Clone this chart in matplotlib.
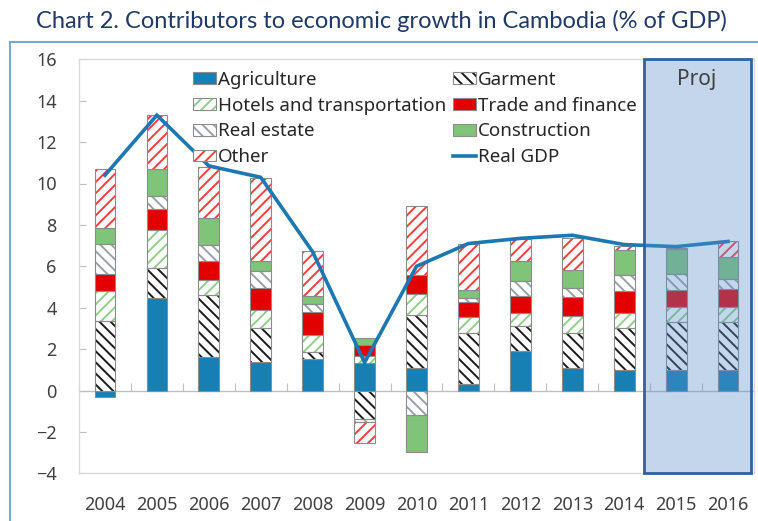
import matplotlib
matplotlib.use("Agg")
import matplotlib.pyplot as plt
import numpy as np
from matplotlib.patches import Patch, Rectangle
from matplotlib.lines import Line2D
from matplotlib.legend_handler import HandlerTuple

years = ["2004", "2005", "2006", "2007", "2008", "2009", "2010",
         "2011", "2012", "2013", "2014", "2015", "2016"]

agriculture = [-0.30, 4.48, 1.60, 1.38, 1.53, 1.35, 1.08, 0.29, 1.91, 1.07, 0.99, 0.99, 0.99]
garment = [3.35, 1.42, 3.00, 1.65, 0.31, -1.38, 2.59, 2.48, 1.21, 1.70, 2.02, 2.34, 2.34]
hotels = [1.45, 1.87, 0.74, 0.85, 0.86, 0.33, 0.97, 0.77, 0.62, 0.83, 0.73, 0.70, 0.70]
trade = [0.85, 1.00, 0.92, 1.09, 1.08, 0.54, 0.94, 0.73, 0.84, 0.91, 1.05, 0.84, 0.87]
real_estate = [1.42, 0.61, 0.78, 0.82, 0.41, -0.15, -1.16, 0.20, 0.72, 0.46, 0.81, 0.78, 0.49]
construction = [0.80, 1.32, 1.30, 0.49, 0.36, 0.32, -1.81, 0.40, 0.94, 0.87, 1.21, 1.19, 1.07]
other = [2.83, 2.60, 2.44, 4.00, 2.19, -1.00, 3.35, 2.22, 1.06, 1.54, 0.19, 0.05, 0.75]
real_gdp = [10.4, 13.3, 10.85, 10.3, 6.7, 1.35, 6.0, 7.1, 7.35, 7.5, 7.05, 6.95, 7.2]

proj_start, proj_end = "2015", "2016"

# (label, values, face colour, hatch, hatch colour)
series = [
    ("Agriculture", agriculture, "#1680b5", None, None),
    ("Garment", garment, "white", "\\\\\\", "#1a1a1a"),
    ("Hotels and transportation", hotels, "white", "///", "#8fcf88"),
    ("Trade and finance", trade, "#e30000", None, None),
    ("Real estate", real_estate, "white", "\\\\\\", "#9aa0a8"),
    ("Construction", construction, "#80c47a", None, None),
    ("Other", other, "white", "///", "#ff3b3b"),
]

plt.rcParams["font.family"] = ["Noto Sans", "DejaVu Sans"]
plt.rcParams["hatch.linewidth"] = 1.4

fig = plt.figure(figsize=(7.58, 5.21), dpi=100)
ax = fig.add_axes([79 / 758, 1 - 473.3 / 521, (754 - 79) / 758, (473.3 - 59.3) / 521])

x = np.arange(len(years))
width = 0.4
edge = "#8c8c8c"
pos_base = np.zeros(len(years))
neg_base = np.zeros(len(years))
handles = {}
for label, vals, face, hatch, hcol in series:
    v = np.array(vals, dtype=float)
    bottom = np.where(v >= 0, pos_base, neg_base)
    if hatch is None:
        ax.bar(x, v, width, bottom=bottom, color=face, edgecolor=edge,
               linewidth=0.8, zorder=2)
        handles[label] = Patch(facecolor=face, edgecolor=edge, linewidth=0.8)
    else:
        ax.bar(x, v, width, bottom=bottom, color=face, edgecolor=hcol,
               hatch=hatch, linewidth=0, zorder=2)
        ax.bar(x, v, width, bottom=bottom, fill=False, edgecolor=edge,
               linewidth=0.8, zorder=2.1)
        handles[label] = (Patch(facecolor=face, edgecolor=hcol, hatch=hatch, linewidth=0),
                          Patch(fill=False, edgecolor=edge, linewidth=0.8))
    pos_base = pos_base + np.where(v >= 0, v, 0)
    neg_base = neg_base + np.where(v < 0, v, 0)

gdp_color = "#1b78b2"
ax.plot(x, real_gdp, color=gdp_color, linewidth=2.6, zorder=4,
        solid_joinstyle="miter")
handles["Real GDP"] = Line2D([], [], color=gdp_color, linewidth=2.6)

# Projection window
i0, i1 = years.index(proj_start), years.index(proj_end)
ax.add_patch(Rectangle((i0 - 0.62, -4), (i1 - i0) + 1.07, 20,
                       facecolor="#5a8fcc", alpha=0.36, edgecolor="none", zorder=5))
ax.add_patch(Rectangle((i0 - 0.62, -4), (i1 - i0) + 1.07, 20,
                       facecolor="none", edgecolor="#2e62a0", linewidth=2.0, zorder=6,
                       clip_on=False))
ax.text((i0 + i1) / 2 - 0.1, 15.0, "Proj", ha="center", va="center",
        fontsize=15, color="#404040", zorder=7)

# Axes styling
ax.set_xlim(-0.5, len(years) - 0.5)
ax.set_ylim(-4, 16)
ax.set_yticks(np.arange(-4, 17, 2))
ax.set_xticks(x)
ax.set_xticklabels(years)
for s in ax.spines.values():
    s.set_color("#d9d9d9")
    s.set_linewidth(1.0)
ax.tick_params(axis="y", direction="in", length=5, color="#bfbfbf",
               labelsize=13, labelcolor="#404040", pad=16)
ax.tick_params(axis="x", length=0, labelsize=13, labelcolor="#404040", pad=16)

# Category axis crossing at zero, with ticks between categories
sec = ax.secondary_xaxis(4 / 20)
sec.set_xticks(np.arange(-0.5, len(years), 1.0))
sec.tick_params(axis="x", direction="in", length=6, color="#bfbfbf", labelbottom=False)
sec.spines["bottom"].set_color("#bfbfbf")
sec.spines["bottom"].set_linewidth(1.0)

# two legend columns, filled column by column
col1 = ["Agriculture", "Hotels and transportation", "Real estate", "Other"]
col2 = ["Garment", "Trade and finance", "Construction", "Real GDP"]
leg_labels = col1 + col2
leg = ax.legend([handles[k] for k in leg_labels], leg_labels, ncol=2,
                loc="upper left", bbox_to_anchor=(193 / 758, 1 - 71 / 521),
                bbox_transform=fig.transFigure, frameon=False, fontsize=13.5,
                handlelength=1.25, handleheight=0.6, handletextpad=0.1,
                labelspacing=0.41, columnspacing=0.32, borderpad=0, borderaxespad=0,
                handler_map={tuple: HandlerTuple(ndivide=1)})
for t in leg.get_texts():
    t.set_color("#262626")
leg.set_zorder(8)

# Title and outer frame
fig.text(381 / 758, 1 - 21 / 521,
         "Chart 2. Contributors to economic growth in Cambodia (% of GDP)",
         ha="center", va="center", fontsize=17, color="#1f3a68", family="Lato")
fig.add_artist(Line2D([10 / 758, 10 / 758], [1 - 42 / 521, 0], transform=fig.transFigure,
                      color="#6fa8dc", linewidth=1.4))
fig.add_artist(Line2D([10 / 758, 1], [1 - 42 / 521, 1 - 42 / 521], transform=fig.transFigure,
                      color="#6fa8dc", linewidth=1.4))

fig.savefig("out.png", dpi=100)
